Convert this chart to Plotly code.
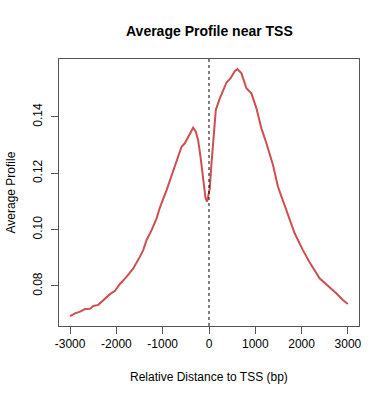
import plotly.graph_objects as go

# Data
distance = [-3001, -2893, -2785, -2677, -2570, -2498, -2391, -2283, -2139, -2031,
            -1923, -1778, -1636, -1492, -1421, -1347, -1240, -1132, -1061, -916,
            -774, -666, -593, -522, -414, -343, -285, -235, -183, -127,
            -75, -41, 17, 54, 88, 114, 147, 233, 304, 377,
            463, 556, 614, 701, 808, 916, 1024, 1132, 1240, 1382,
            1490, 1671, 1850, 2028, 2173, 2388, 2604, 2748, 2891, 2999]
profile = [0.0693, 0.0703, 0.0709, 0.0718, 0.0719, 0.0729, 0.0733, 0.0750, 0.0771, 0.0783,
           0.0807, 0.0833, 0.0862, 0.0904, 0.0927, 0.0963, 0.0998, 0.1040, 0.1078, 0.1140,
           0.1211, 0.1258, 0.1294, 0.1306, 0.1341, 0.1361, 0.1347, 0.1317, 0.1258, 0.1176,
           0.1111, 0.1099, 0.1147, 0.1235, 0.1317, 0.1371, 0.1424, 0.1465, 0.1495, 0.1521,
           0.1536, 0.1562, 0.1569, 0.1554, 0.1501, 0.1483, 0.1430, 0.1359, 0.1306, 0.1229,
           0.1152, 0.1069, 0.0987, 0.0927, 0.0884, 0.0827, 0.0797, 0.0774, 0.0750, 0.0736]
x_ticks = [-3000, -2000, -1000, 0, 1000, 2000, 3000]
y_ticks = [0.08, 0.10, 0.12, 0.14]
y_tick_labels = ["0.08", "0.10", "0.12", "0.14"]

FONT = "Liberation Sans, Arial, sans-serif"
W, H = 390, 400
ML, MR, MT, MB = 59, 31, 59, 74

fig = go.Figure()
fig.add_trace(go.Scatter(x=distance, y=profile, mode="lines",
                         line=dict(color="#CD4F4F", width=2), showlegend=False))

fig.add_shape(type="line", xref="x", yref="paper", x0=0, x1=0, y0=0, y1=1,
              line=dict(color="black", width=1, dash="3px,3px"))

axis_common = dict(showgrid=False, zeroline=False, showline=True, mirror=True,
                   linecolor="#555555", linewidth=1, ticks="outside", ticklen=7,
                   tickcolor="#555555", tickwidth=1,
                   tickfont=dict(family=FONT, size=12, color="black"))

fig.update_xaxes(range=[-3240, 3240], tickvals=x_ticks,
                 ticktext=[str(v) for v in x_ticks], **axis_common)
fig.update_yaxes(range=[0.0658, 0.1605], tickvals=y_ticks, ticktext=y_tick_labels,
                 tickangle=-90, ticklabelstandoff=4, **axis_common)

ph = H - MT - MB
pw = W - ML - MR
fig.update_layout(
    width=W, height=H,
    margin=dict(l=ML, r=MR, t=MT, b=MB, pad=0),
    plot_bgcolor="white", paper_bgcolor="white",
    font=dict(family=FONT, size=12, color="black"),
    annotations=[
        dict(text="<b>Average Profile near TSS</b>", xref="paper", yref="paper",
             x=0.5, y=1 + (MT - 31) / ph, xanchor="center", yanchor="middle",
             showarrow=False, font=dict(family=FONT, size=14, color="black")),
        dict(text="Relative Distance to TSS (bp)", xref="paper", yref="paper",
             x=0.5, y=-(377 - (H - MB)) / ph, xanchor="center", yanchor="middle",
             showarrow=False, font=dict(family=FONT, size=12, color="black")),
        dict(text="Average Profile", xref="paper", yref="paper",
             x=-(ML - 10) / pw, y=0.5, xanchor="center", yanchor="middle",
             textangle=-90, showarrow=False,
             font=dict(family=FONT, size=12, color="black")),
    ],
)

fig.write_html("out.html", config={"displayModeBar": False},
               post_script="document.body.style.margin='0';document.body.style.padding='0';")
